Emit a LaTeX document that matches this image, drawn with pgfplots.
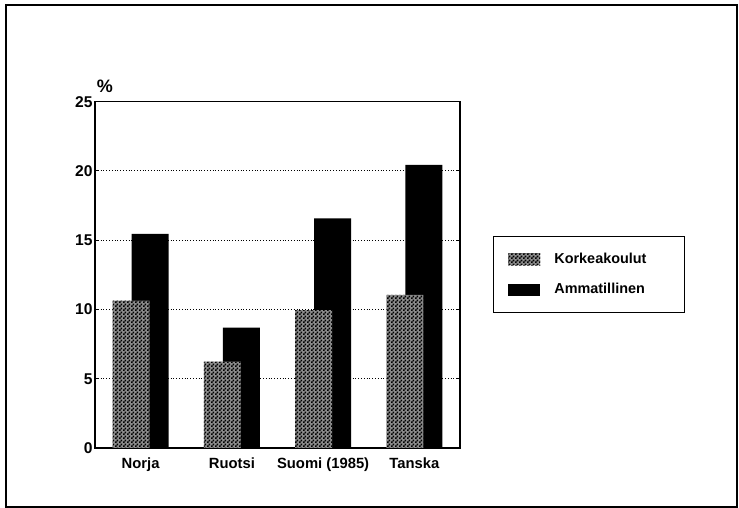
\documentclass[border=0pt]{standalone}
\usepackage{fontspec}
\setmainfont{Liberation Sans}
\usepackage{pgfplots}
\pgfplotsset{compat=1.18}
\usetikzlibrary{patterns}
\pgfdeclarepatternformonly{finecheck}{\pgfpointorigin}{\pgfpoint{1.8pt}{1.8pt}}{\pgfpoint{1.8pt}{1.8pt}}{
  \pgfpathrectangle{\pgfpointorigin}{\pgfpoint{0.9pt}{0.9pt}}
  \pgfpathrectangle{\pgfpoint{0.9pt}{0.9pt}}{\pgfpoint{0.9pt}{0.9pt}}
  \pgfusepath{fill}
}
\pgfplotstableread{
x k a
0 10.64 15.45
1 6.23 8.69
2 9.96 16.58
3 11.05 20.43
}\datatable
\begin{document}
\begin{tikzpicture}
\path (0,0) rectangle (369.5pt,254pt);
\draw[line width=1pt] (3pt,0.5pt) rectangle (368.5pt,251.5pt);
\begin{axis}[
  at={(47.5pt,30pt)}, anchor=south west,
  scale only axis, width=182.5pt, height=173.15pt,
  xmin=-0.5, xmax=3.5, ymin=0, ymax=25,
  xtick=data, xticklabels={Norja,Ruotsi,Suomi (1985),Tanska},
  ytick={0,5,10,15,20,25},
  ymajorgrids, major grid style={densely dotted, black, line width=0.5pt},
  axis line style={line width=0.7pt},
  major x tick style={draw=none},
  major tick length=1.5pt,
  tick style={black, line width=0.5pt},
  tick label style={font=\fontsize{7.4pt}{9pt}\selectfont\bfseries},
  yticklabel style={font=\fontsize{7.8pt}{9pt}\selectfont\bfseries},
  /pgf/number format/assume math mode=true,
  yticklabel style={xshift=0pt, inner sep=1pt},
  xticklabel style={yshift=-1.5pt},
  bar width=18.5pt,
  legend style={at={(1.09,0.612)}, anchor=north west, draw=black, line width=0.6pt,
    font=\fontsize{7.2pt}{9pt}\selectfont\bfseries, row sep=4.5pt, inner xsep=7.5pt, inner ysep=6pt,
    legend cell align=left},
  legend image code/.code={\fill[#1] (0pt,-3pt) rectangle (16pt,3pt);},
  reverse legend,
  clip=false,
]
\addplot[ybar, bar shift=4.75pt, fill=black, draw=none] table[x=x,y=a]{\datatable};
\addlegendentry{\hspace{5pt}Ammatillinen\hspace*{10.5pt}\mbox{}}
\addplot[ybar, bar shift=-4.75pt, draw=none, fill=black!45, postaction={pattern=finecheck, pattern color=black}] table[x=x,y=k]{\datatable};
\addlegendentry{\hspace{5pt}Korkeakoulut}
\node[font=\fontsize{9pt}{10pt}\selectfont\bfseries] at (axis description cs:0.027,1.045) {\%};
\end{axis}
\end{tikzpicture}
\end{document}
